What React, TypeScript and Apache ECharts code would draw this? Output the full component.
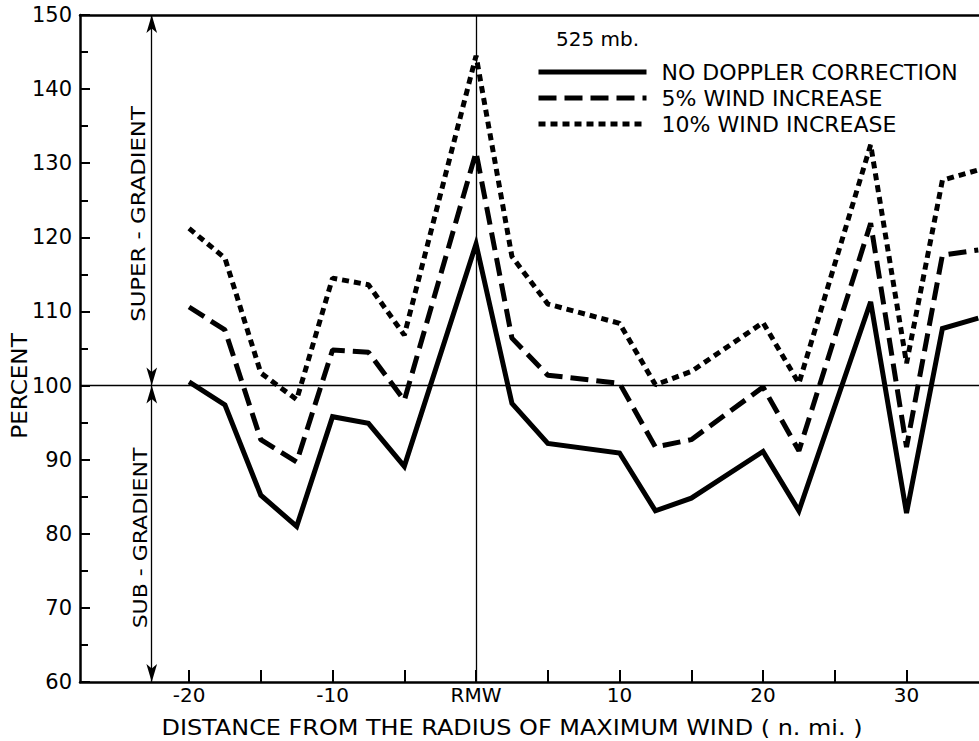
import React, { useEffect, useRef } from "react";
import * as echarts from "echarts";

// Distance from the radius of maximum wind (n. mi.)
const distances = [-20, -17.5, -15, -12.5, -10, -7.5, -5, 0, 2.5, 5, 10, 12.5, 15, 20, 22.5, 27.5, 30, 32.5, 35];
// Percent of gradient wind
const noDoppler = [100.5, 97.4, 85.2, 81.0, 95.8, 94.9, 89.1, 119.1, 97.6, 92.2, 90.9, 83.1, 84.8, 91.1, 83.1, 111.3, 82.8, 107.7, 109.1];
const wind5 = [110.6, 107.5, 92.7, 89.7, 104.8, 104.5, 98.0, 131.5, 106.4, 101.4, 100.3, 91.7, 92.7, 99.8, 91.2, 121.9, 91.7, 117.6, 118.3];
const wind10 = [121.2, 117.2, 101.7, 98.1, 114.5, 113.6, 106.8, 144.5, 117.4, 111.0, 108.4, 100.1, 101.9, 108.5, 100.3, 132.5, 103.0, 127.7, 129.1];

const seriesNames = ["NO DOPPLER CORRECTION", "5% WIND INCREASE", "10% WIND INCREASE"];
const xLabelValues = [-20, -10, 0, 10, 20, 30];
const xTickValues = [-20, -15, -10, -5, 0, 5, 10, 15, 20, 25, 30];
const xMin = -27.6;
const xMax = 35.05;
const yMin = 60;
const yMax = 150;
const gradientLevel = 100;
const gradientMarkX = -22.6;

const FONT = "DejaVu Sans";

export default function App() {
  const ref = useRef<HTMLDivElement>(null);

  useEffect(() => {
    if (!ref.current) return;
    const chart = echarts.init(ref.current, null, { renderer: "svg" });

    const pairs = (vals: number[]) => distances.map((d, i) => [d, vals[i]]);

    const arrowEnd = (x: number, y: number) => ({
      coord: [x, y],
      symbol: "arrow",
      symbolSize: [8, 18],
    });

    const option: any = {
      animation: false,
      backgroundColor: "#ffffff",
      textStyle: { fontFamily: FONT, color: "#000" },
      grid: { left: 80, right: 0, top: 15, bottom: 59, containLabel: false, outerBoundsMode: "none" },
      legend: {
        orient: "vertical",
        left: 536,
        top: 61,
        padding: 0,
        itemWidth: 108,
        itemHeight: 14,
        itemGap: 4,
        selectedMode: false,
        data: seriesNames,
        itemStyle: { opacity: 0, borderWidth: 0 },
        lineStyle: { width: 5 },
        textStyle: { fontFamily: FONT, fontSize: 22, color: "#000", padding: [0, 0, 0, 10] },
      },
      xAxis: [
        {
          type: "value",
          min: xMin,
          max: xMax,
          position: "bottom",
          axisLine: { show: true, onZero: false, lineStyle: { color: "#000", width: 2.5 } },
          axisTick: { show: true, inside: true, length: 12, customValues: xTickValues, lineStyle: { color: "#000", width: 2 } },
          axisLabel: {
            customValues: xLabelValues,
            margin: 3,
            fontSize: 20,
            fontFamily: FONT,
            color: "#000",
            formatter: (v: number) => (v === 0 ? "RMW" : String(v)),
          },
          splitLine: { show: false },
        },
        {
          type: "value",
          min: xMin,
          max: xMax,
          position: "top",
          axisLine: { show: true, onZero: false, lineStyle: { color: "#000", width: 2.5 } },
          axisTick: { show: false },
          axisLabel: { show: false },
          splitLine: { show: false },
        },
      ],
      yAxis: {
        type: "value",
        min: yMin,
        max: yMax,
        interval: 10,
        axisLine: { show: true, onZero: false, lineStyle: { color: "#000", width: 2.5 } },
        axisTick: { show: true, inside: true, length: 10, lineStyle: { color: "#000", width: 2 } },
        minorTick: { show: true, splitNumber: 2, length: 8, lineStyle: { color: "#000", width: 2 } },
        axisLabel: { margin: 8, fontSize: 21, fontFamily: FONT, color: "#000" },
        splitLine: { show: false },
      },
      series: [
        {
          name: seriesNames[0],
          type: "line",
          data: pairs(noDoppler),
          symbol: "none",
          lineStyle: { color: "#000", width: 5, type: "solid", join: "miter" },
          itemStyle: { color: "#000" },
          z: 3,
          markLine: {
            silent: true,
            symbol: "none",
            label: { show: false },
            lineStyle: { color: "#000", width: 1.3, type: "solid" },
            data: [
              { xAxis: 0 },
              { yAxis: gradientLevel },
              [arrowEnd(gradientMarkX, yMax), arrowEnd(gradientMarkX, gradientLevel)],
              [arrowEnd(gradientMarkX, gradientLevel), arrowEnd(gradientMarkX, yMin)],
            ],
          },
        },
        {
          name: seriesNames[1],
          type: "line",
          data: pairs(wind5),
          symbol: "none",
          lineStyle: { color: "#000", width: 5, type: [18, 8], cap: "butt" },
          itemStyle: { color: "#000" },
          z: 3,
        },
        {
          name: seriesNames[2],
          type: "line",
          data: pairs(wind10),
          symbol: "none",
          lineStyle: { color: "#000", width: 5, type: [7, 5], cap: "butt" },
          itemStyle: { color: "#000" },
          z: 3,
        },
      ],
      graphic: [
        {
          type: "text",
          left: 556,
          top: 29,
          style: { text: "525 mb.", fontFamily: FONT, fontSize: 20, fill: "#000" },
        },
        {
          type: "text",
          x: 138,
          y: 214,
          rotation: Math.PI / 2,
          scaleX: 1.14,
          style: { text: "SUPER - GRADIENT", fontFamily: FONT, fontSize: 20, fill: "#000", align: "center", verticalAlign: "middle" },
        },
        {
          type: "text",
          x: 140,
          y: 538,
          rotation: Math.PI / 2,
          scaleX: 1.1,
          style: { text: "SUB - GRADIENT", fontFamily: FONT, fontSize: 20, fill: "#000", align: "center", verticalAlign: "middle" },
        },
        {
          type: "text",
          x: 20,
          y: 386,
          rotation: Math.PI / 2,
          scaleX: 1.1,
          style: { text: "PERCENT", fontFamily: FONT, fontSize: 21, fill: "#000", align: "center", verticalAlign: "middle" },
        },
        {
          type: "text",
          x: 512,
          y: 728,
          scaleX: 1.14,
          style: {
            text: "DISTANCE FROM THE RADIUS OF MAXIMUM WIND ( n. mi. )",
            fontFamily: FONT,
            fontSize: 21,
            fill: "#000",
            align: "center",
            verticalAlign: "middle",
          },
        },
      ],
    };

    chart.setOption(option);
    return () => chart.dispose();
  }, []);

  return (
    <div
      ref={ref}
      style={{ position: "absolute", left: 0, top: 0, width: 979, height: 741, background: "#fff" }}
    />
  );
}
